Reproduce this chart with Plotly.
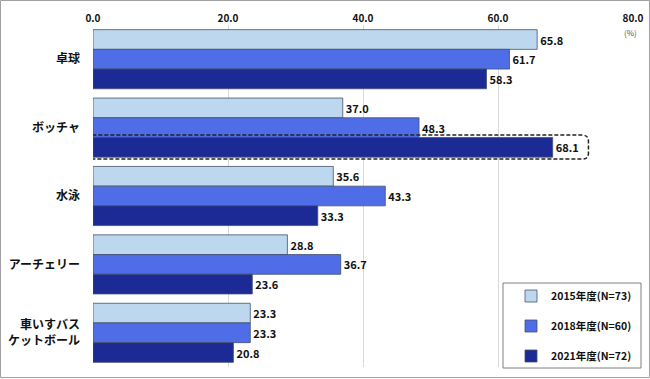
import plotly.graph_objects as go

categories = ["卓球", "ボッチャ", "水泳", "アーチェリー", "車いすバス<br>ケットボール"]
series_names = ["2015年度(N=73)", "2018年度(N=60)", "2021年度(N=72)"]
values_2015 = [65.8, 37.0, 35.6, 28.8, 23.3]
values_2018 = [61.7, 48.3, 43.3, 36.7, 23.3]
values_2021 = [58.3, 68.1, 33.3, 23.6, 20.8]
x_ticks = [0, 20, 40, 60, 80]

colors = ["#BDD7EE", "#4F6DE6", "#1B2A94"]
FONT = "Noto Sans CJK JP"

fig = go.Figure()
ypos = list(range(len(categories)))
for name, vals, col in zip(series_names, [values_2015, values_2018, values_2021], colors):
    fig.add_trace(go.Bar(
        y=ypos, x=vals, name=f"<b>{name}</b>", orientation="h",
        marker=dict(color=col, line=dict(color="#44506e", width=0.8)),
        texttemplate="<b>%{x:.1f}</b>", textposition="outside",
        textfont=dict(family=FONT, size=11, color="#111"),
        cliponaxis=False, legendgroup=name,
    ))

L, R, T, B = 93, 17, 25, 12
W, H = 650, 379
pw, ph = W - L - R, H - T - B

def px_x(p):
    return (p - L) / pw

def px_y(p):
    return (H - B - p) / ph

shapes = []
# outer border
shapes.append(dict(type="rect", xref="paper", yref="paper",
                   x0=px_x(0.5), x1=px_x(649.5), y0=px_y(377.5), y1=px_y(0.5),
                   line=dict(color="#a0a0a0", width=1), layer="above"))
# legend box
shapes.append(dict(type="rect", xref="paper", yref="paper",
                   x0=px_x(503), x1=px_x(641), y0=px_y(368), y1=px_y(283),
                   line=dict(color="#808080", width=1), fillcolor="white", layer="above"))
# dashed rounded rectangle around Boccia 2021
x0, x1 = -1.0, 73.4
y0, y1 = 1.11, 1.46
rx, ry = 0.9, 0.09
path = (f"M {x0+rx},{y0} L {x1-rx},{y0} Q {x1},{y0} {x1},{y0+ry} "
        f"L {x1},{y1-ry} Q {x1},{y1} {x1-rx},{y1} L {x0+rx},{y1} "
        f"Q {x0},{y1} {x0},{y1-ry} L {x0},{y0+ry} Q {x0},{y0} {x0+rx},{y0} Z")
shapes.append(dict(type="path", xref="x", yref="y", path=path,
                   line=dict(color="#222", width=1.5, dash="4px,2px"), layer="above"))

fig.update_layout(
    width=W, height=H,
    margin=dict(l=L, r=R, t=T, b=B, autoexpand=False),
    paper_bgcolor="white", plot_bgcolor="white",
    barmode="group", bargap=0.136, bargroupgap=0,
    font=dict(family=FONT, color="#111"),
    shapes=shapes,
    showlegend=True,
    legend=dict(x=px_x(574), y=px_y(326), xanchor="center", yanchor="middle",
                bgcolor="rgba(0,0,0,0)", borderwidth=0,
                font=dict(family=FONT, size=10.5, color="#111"),
                traceorder="grouped", tracegroupgap=11, itemwidth=30),
    annotations=[dict(text="(%)", xref="paper", yref="paper",
                      x=px_x(639), y=px_y(32), showarrow=False, yanchor="middle",
                      font=dict(family=FONT, size=8, color="#555"))],
)
fig.update_xaxes(side="top", range=[0, 80], tickvals=x_ticks,
                 ticktext=[f"<b>{v:.1f}</b>" for v in x_ticks],
                 tickfont=dict(family=FONT, size=10, color="#111"),
                 showgrid=True, gridcolor="#d9d9d9", gridwidth=1,
                 zeroline=False, showline=False, ticks="", automargin=False)
fig.update_yaxes(range=[4.5, -0.5], tickvals=ypos,
                 ticktext=[f"<b>{c}</b>" for c in categories],
                 tickfont=dict(family=FONT, size=12, color="#111"),
                 showgrid=False, zeroline=False, showline=False,
                 ticks="", ticklabelstandoff=12, automargin=False)

fig.write_html("out.html", config={"displayModeBar": False},
               post_script="document.body.style.margin='0';document.body.style.overflow='hidden';")
